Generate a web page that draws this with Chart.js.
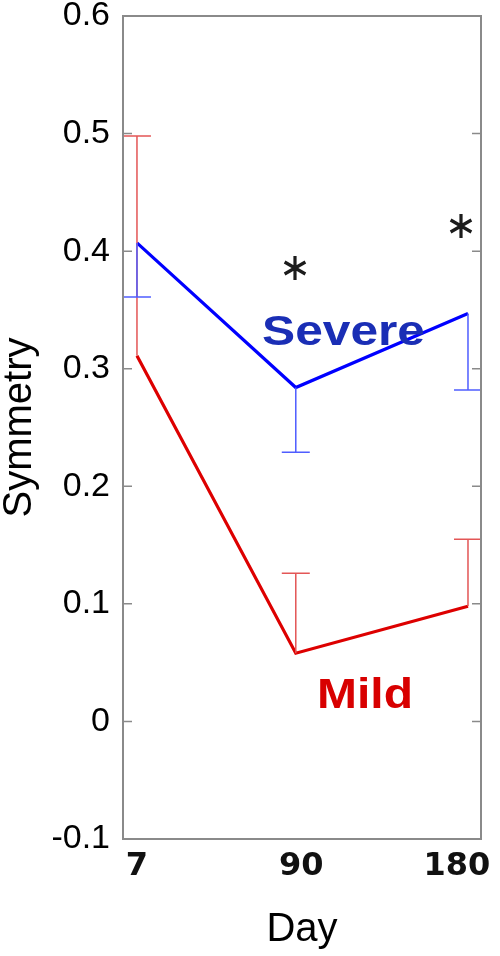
<!DOCTYPE html>
<html>
<head>
<meta charset="utf-8">
<script src="https://cdn.jsdelivr.net/npm/chart.js@4"></script>
<style>
html,body{margin:0;padding:0;background:#fff;}
canvas{display:block;}
</style>
</head>
<body>
<canvas id="c" width="500" height="956"></canvas>
<script>
// ---- data ----
const days = [7, 90, 180];
const xTickLabels = ['7', ' 90', '180  '];
const severe = [0.407, 0.284, 0.347];
const severeLow = [0.361, 0.229, 0.282];
const mild = [0.311, 0.058, 0.098];
const mildHigh = [0.498, 0.126, 0.155];
const yTicks = [-0.1, 0, 0.1, 0.2, 0.3, 0.4, 0.5, 0.6];

const COL = {
  blue: '#0000ff', blueErr: '#4f5dff', red: '#dd0000', redErr: '#e35656',
  severeText: '#1a2eb5', mildText: '#d80000', frame: '#8a8a8a', star: '#1c1c1c'
};

const framePlugin = {
  id: 'frame',
  afterDatasetsDraw(chart) {
    const ctx = chart.ctx, a = chart.chartArea;
    const xs = chart.scales.x, ys = chart.scales.y;
    ctx.save();
    // error bars
    const drawErr = (vals, ends, color) => {
      ctx.strokeStyle = color; ctx.lineWidth = 1.5;
      days.forEach((d, i) => {
        const x = xs.getPixelForValue(d);
        const y0 = ys.getPixelForValue(vals[i]);
        const y1 = ys.getPixelForValue(ends[i]);
        ctx.beginPath();
        ctx.moveTo(x, y0); ctx.lineTo(x, y1);
        ctx.moveTo(Math.max(a.left, x - 14), y1); ctx.lineTo(Math.min(a.right, x + 14), y1);
        ctx.stroke();
      });
    };
    drawErr(mild, mildHigh, COL.redErr);
    drawErr(severe, severeLow, COL.blueErr);

    // frame
    ctx.strokeStyle = COL.frame; ctx.lineWidth = 2;
    ctx.strokeRect(a.left, a.top, a.right - a.left, a.bottom - a.top);
    // inner tick marks
    ctx.lineWidth = 1.5;
    ctx.beginPath();
    yTicks.forEach(v => {
      const y = ys.getPixelForValue(v);
      ctx.moveTo(a.left, y); ctx.lineTo(a.left + 9, y);
      ctx.moveTo(a.right, y); ctx.lineTo(a.right - 9, y);
    });
    ctx.stroke();

    // labels
    const drawLabel = (txt, x, base, width, color) => {
      ctx.font = 'bold 43px "Liberation Sans", Arial, sans-serif';
      ctx.fillStyle = color; ctx.textAlign = 'left'; ctx.textBaseline = 'alphabetic';
      const w = ctx.measureText(txt).width;
      ctx.save();
      ctx.translate(x, base);
      ctx.scale(width / w, 1);
      ctx.fillText(txt, 0, 0);
      ctx.restore();
    };
    drawLabel('Severe', 262, 345, 163, COL.severeText);
    drawLabel('Mild', 317, 708, 96, COL.mildText);

    // asterisks
    const star = (cx, cy, r) => {
      ctx.strokeStyle = COL.star; ctx.lineWidth = 3.2; ctx.lineCap = 'butt';
      ctx.beginPath();
      for (let k = 0; k < 3; k++) {
        const ang = Math.PI / 2 + k * Math.PI / 3;
        ctx.moveTo(cx + r * Math.cos(ang), cy + r * Math.sin(ang));
        ctx.lineTo(cx - r * Math.cos(ang), cy - r * Math.sin(ang));
      }
      ctx.stroke();
    };
    star(295, 268, 12);
    star(461, 226, 12);
    ctx.restore();
  }
};

new Chart(document.getElementById('c'), {
  type: 'line',
  data: {
    datasets: [
      { label: 'Severe', data: days.map((d, i) => ({x: d, y: severe[i]})),
        borderColor: COL.blue, borderWidth: 3.2, pointRadius: 0, tension: 0, fill: false },
      { label: 'Mild', data: days.map((d, i) => ({x: d, y: mild[i]})),
        borderColor: COL.red, borderWidth: 3.2, pointRadius: 0, tension: 0, fill: false }
    ]
  },
  options: {
    responsive: false,
    devicePixelRatio: 1,
    animation: false,
    layout: { padding: { top: 16, right: 19, left: 0, bottom: 0 } },
    plugins: { legend: { display: false }, tooltip: { enabled: false } },
    scales: {
      x: {
        type: 'linear', min: -0.3, max: 186.8,
        grid: { display: false, drawTicks: false },
        border: { display: false },
        afterBuildTicks: s => { s.ticks = days.map(v => ({value: v})); },
        afterFit: s => { s.height = 117; s.paddingLeft = 0; s.paddingRight = 0; },
        ticks: {
          autoSkip: false, maxRotation: 0, padding: 8, color: '#111',
          font: { family: '"DejaVu Sans", Verdana, sans-serif', size: 32, weight: 'bold' },
          callback: (v) => { const i = days.indexOf(v); return i >= 0 ? xTickLabels[i] : ''; }
        },
        title: { display: true, text: 'Day', color: '#000',
          font: { family: '"Liberation Sans", Arial, sans-serif', size: 40, lineHeight: 1.2 },
          padding: { top: 0, bottom: 2 } }
      },
      y: {
        min: -0.1, max: 0.6,
        grid: { display: false, drawTicks: false },
        border: { display: false },
        afterBuildTicks: s => { s.ticks = yTicks.map(v => ({value: v})); },
        afterFit: s => { s.width = 123; s.paddingTop = 0; s.paddingBottom = 0; },
        ticks: {
          padding: 13, color: '#000',
          font: { family: '"Liberation Sans", Arial, sans-serif', size: 34 },
          callback: v => Math.abs(v) < 1e-9 ? '0' : v.toFixed(1)
        },
        title: { display: true, text: 'Symmetry', color: '#000',
          font: { family: '"Liberation Sans", Arial, sans-serif', size: 40, lineHeight: 1.0 },
          padding: { top: 0, bottom: 0 } }
      }
    }
  },
  plugins: [framePlugin]
});
</script>
</body>
</html>
